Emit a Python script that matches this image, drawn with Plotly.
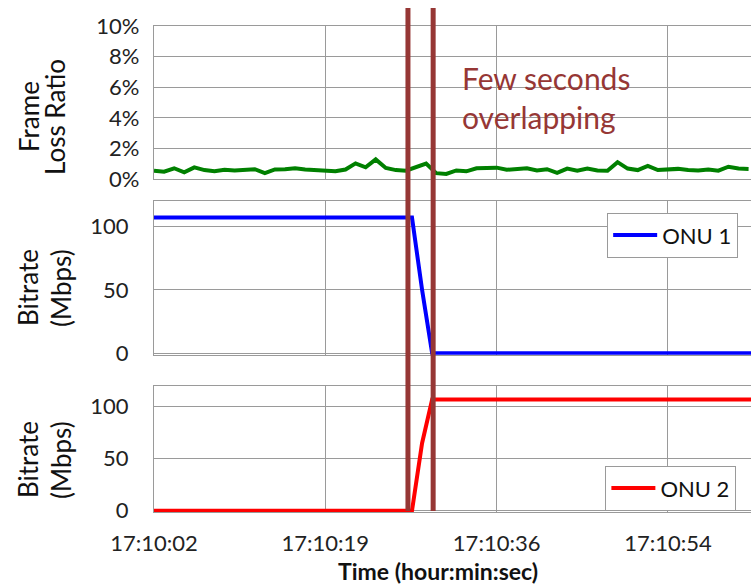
import plotly.graph_objects as go

# frame loss ratio (%) per sample
sample = list(range(60))
frame_loss = [0.56, 0.50, 0.72, 0.45, 0.78, 0.60, 0.52, 0.62, 0.58, 0.60,
              0.66, 0.40, 0.64, 0.66, 0.72, 0.64, 0.58, 0.52, 0.52, 0.64,
              1.04, 0.78, 1.30, 0.74, 0.60, 0.56, 0.80, 1.02, 0.40, 0.35,
              0.58, 0.52, 0.72, 0.72, 0.76, 0.62, 0.64, 0.72, 0.58, 0.66,
              0.42, 0.70, 0.56, 0.70, 0.58, 0.56, 1.12, 0.70, 0.60, 0.88,
              0.60, 0.62, 0.68, 0.60, 0.58, 0.64, 0.56, 0.82, 0.70, 0.68]

# bitrate breakpoints (Mbps)
onu_t = [0, 25.6, 26.6, 27.6, 59.3]
onu1 = [107, 107, 50, 0, 0]
onu2 = [0, 0, 65, 107, 107]

tick_pos = [0, 17, 34, 51]
tick_text = ["17:10:02", "17:10:19", "17:10:36", "17:10:54"]
overlap = [25.2, 27.7]

W, H = 751, 585
FONT = "Lato"
GRID = "#9a9a9a"
DARKRED = "rgb(150,55,53)"


def py(px):
    return 1 - px / H


fig = go.Figure()
fig.add_trace(go.Scatter(x=sample, y=frame_loss, mode="lines", xaxis="x3", yaxis="y3",
                         line=dict(color="#008000", width=4), showlegend=False))
fig.add_trace(go.Scatter(x=onu_t, y=onu1, mode="lines", xaxis="x2", yaxis="y2", name="ONU 1",
                         line=dict(color="#0000ff", width=4), legend="legend"))
fig.add_trace(go.Scatter(x=onu_t, y=onu2, mode="lines", xaxis="x", yaxis="y", name="ONU 2",
                         line=dict(color="#ff0000", width=4), legend="legend2"))

xcommon = dict(range=[0, 59.24], tickvals=tick_pos, ticktext=tick_text, showgrid=True,
               gridcolor=GRID, gridwidth=1.3, showline=True, mirror=True, linecolor=GRID,
               linewidth=1.3, zeroline=False, ticks="", automargin=False,
               tickfont=dict(family=FONT, size=22, color="#222"))
ycommon = dict(showgrid=True, gridcolor=GRID, gridwidth=1.3, showline=True, linecolor=GRID,
               linewidth=1.3, zeroline=False, ticks="", automargin=False,
               tickfont=dict(family=FONT, size=22, color="#222"))
legend_style = dict(xanchor="right", yanchor="top", bgcolor="white", itemwidth=44,
                    bordercolor=GRID, borderwidth=1.3,
                    font=dict(family=FONT, size=22, color="#111"))

fig.update_layout(
    width=W, height=H,
    margin=dict(l=154, r=0, t=0, b=0, autoexpand=False),
    paper_bgcolor="white", plot_bgcolor="white",
    xaxis=dict(xcommon, anchor="y", ticklabelstandoff=11),
    xaxis2=dict(xcommon, anchor="y2", showticklabels=False),
    xaxis3=dict(xcommon, anchor="y3", showticklabels=False),
    yaxis=dict(ycommon, domain=[py(512.0), py(386)], range=[-1.2, 120],
               tickvals=[0, 50, 100], ticklabelstandoff=20),
    yaxis2=dict(ycommon, domain=[py(354.8), py(201)], range=[-1.2, 120],
                tickvals=[0, 50, 100], ticklabelstandoff=20),
    yaxis3=dict(ycommon, domain=[py(179.3), py(26)], range=[0, 10], dtick=2,
                ticksuffix="%", ticklabelstandoff=9),
    legend=dict(legend_style, x=0.978, y=py(213)),
    legend2=dict(legend_style, x=0.975, y=py(466)),
)

for xv in overlap:
    fig.add_shape(type="line", xref="x", yref="paper", x0=xv, x1=xv, y0=py(511), y1=py(8),
                  line=dict(color=DARKRED, width=5), layer="above")

title_font = dict(family=FONT, size=26, color="#111")
labels = [("Frame", 29, 117), ("Loss Ratio", 55, 117),
          ("Bitrate", 28, 288), ("(Mbps)", 61, 288),
          ("Bitrate", 28, 460), ("(Mbps)", 61, 460)]
for txt, xpx, ypx in labels:
    fig.add_annotation(text=txt, xref="paper", yref="paper", x=(xpx - 154) / 597, y=py(ypx),
                       xanchor="center", yanchor="middle", textangle=-90, showarrow=False,
                       font=title_font)

fig.add_annotation(text="Few seconds<br>overlapping", xref="paper", yref="paper",
                   x=(460 - 154) / 597, y=py(98), xanchor="left", yanchor="middle", align="left",
                   showarrow=False, font=dict(family=FONT, size=30, color=DARKRED))
fig.add_annotation(text="<b>Time (hour:min:sec)</b>", xref="paper", yref="paper",
                   x=(438 - 154) / 597, y=py(571), xanchor="center", yanchor="middle",
                   showarrow=False, font=dict(family=FONT, size=23, color="#111"))

fig.write_html("out.html", config={"displayModeBar": False},
               post_script="document.body.style.margin='0';")
